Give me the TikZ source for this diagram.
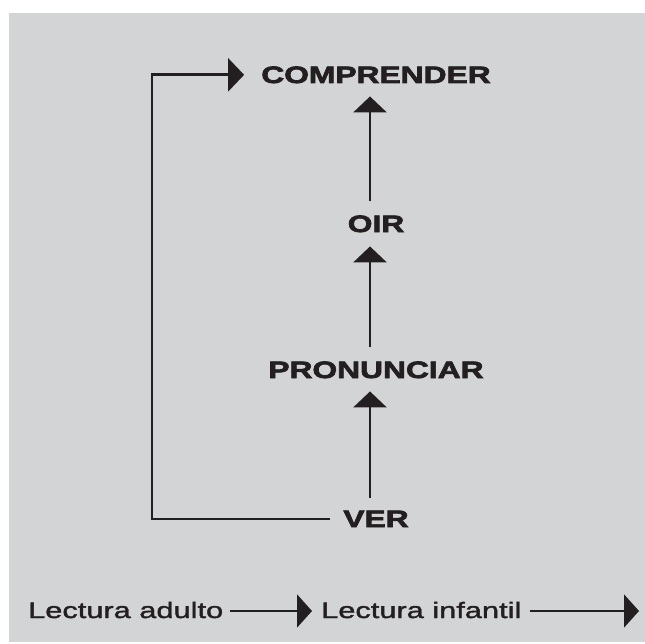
\documentclass[tikz,border=0pt]{standalone}
\usepackage{fontspec}
\setmainfont{Liberation Sans}
\newfontfamily\heavyfont[FakeStretch=1.34,FakeBold=3]{Liberation Sans Bold}
\newfontfamily\labelfont[FakeStretch=1.38,FakeBold=1.6]{Liberation Sans}
\usetikzlibrary{arrows.meta}
\definecolor{bggray}{RGB}{211,212,214}
\definecolor{ink}{RGB}{35,31,32}
\tikzset{
  stage/.style={inner sep=0pt,anchor=base,text=ink,font=\heavyfont\fontsize{23.7bp}{28bp}\selectfont},
  reading/.style={inner sep=0pt,anchor=base west,text=ink,font=\labelfont\fontsize{22.3bp}{26bp}\selectfont},
  flow/.style={draw=ink,line width=2.7bp,-{Triangle[length=16bp,width=33bp]}},
  thinflow/.style={draw=ink,line width=2.2bp,-{Triangle[length=15bp,width=33bp]}}
}
\begin{document}
\begin{tikzpicture}[x=1bp,y=-1bp]
\useasboundingbox (0,0) rectangle (645,644);
\fill[bggray] (9,13) rectangle (645,642);

% stages
\node[stage] (comp) at (376,83) {COMPRENDER};
\node[stage] (oir) at (376,232) {OIR};
\node[stage] (pron) at (376,378) {PRONUNCIAR};
\node[stage] (ver) at (376,527) {VER};
\coordinate (bend) at (152,300);

\draw[flow,shorten <=13bp,shorten >=13bp] ([xshift=-6bp]ver.north) -- ([xshift=-6bp]pron.south);
\draw[flow,shorten <=14bp,shorten >=14bp] ([xshift=-6bp]pron.north) -- ([xshift=-6bp]oir.south);
\draw[flow,shorten <=14bp,shorten >=13bp] ([xshift=-6bp]oir.north) -- ([xshift=-6bp]comp.south);
\draw[flow,shorten <=13bp,shorten >=17bp] (ver.west) -| (bend) |- (comp.west);

% lectura
\node[reading] (adulto) at (28,618) {Lectura adulto};
\node[reading] (infantil) at (321,618) {Lectura infantil};
\coordinate (fin) at (639,611);
\draw[thinflow,shorten <=7bp,shorten >=9bp] (adulto.east |- fin) -- (infantil.west |- fin);
\draw[thinflow,shorten <=8bp] (infantil.east |- fin) -- (fin);

\end{tikzpicture}
\end{document}
